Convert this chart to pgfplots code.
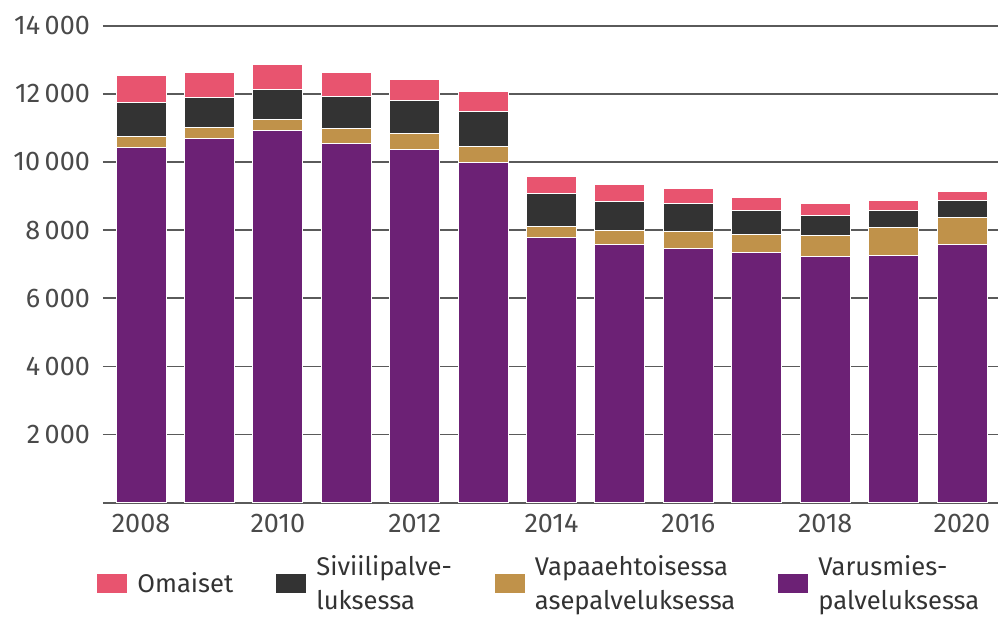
\documentclass[border=0pt]{standalone}
\usepackage{fontspec}
\setmainfont{Fira Sans}
\usepackage{pgfplots}
\usepackage{pgfplotstable}
\pgfplotsset{compat=1.18}
\definecolor{cPink}{HTML}{E8546F}
\definecolor{cDark}{HTML}{333333}
\definecolor{cGold}{HTML}{C0924A}
\definecolor{cPurple}{HTML}{6C2175}
\definecolor{cGrid}{HTML}{5A5A5A}
\definecolor{cTick}{HTML}{4A4A4A}
\pgfplotstableread{
year var vap siv oma
2008 10427 324 1002 795
2009 10704 312 884 736
2010 10928 315 884 736
2011 10557 421 951 690
2012 10368 463 980 610
2013 9997 460 1013 607
2014 7776 336 972 489
2015 7570 412 866 489
2016 7473 480 825 453
2017 7334 530 699 403
2018 7216 640 580 353
2019 7267 815 489 295
2020 7582 783 501 265
}\datatable
\begin{document}
\begin{tikzpicture}
\begin{axis}[
 scale only axis, width=447.5pt, height=238.5pt,
 xmin=2007.444, xmax=2020.526, ymin=0, ymax=14000,
 ybar stacked, bar width=25pt,
 axis line style={draw=none},
 ymajorgrids, grid style={line width=0.8pt, color=cGrid},
 scaled y ticks=false,
 xtick={2008,2010,...,2020},
 xticklabels={2008,2010,2012,2014,2016,2018,2020},
 ytick={0,2000,...,14000},
 yticklabels={,{2\,000},{4\,000},{6\,000},{8\,000},{10\,000},{12\,000},{14\,000}},
 major tick length=0pt,
 tick label style={font=\fontsize{13.5}{15}\selectfont, text=cTick},
 yticklabel style={xshift=-3pt},
 xticklabel style={yshift=-2pt},
 reverse legend,
 legend style={at={(0,0)}, anchor=north west, xshift=-3pt, yshift=-26pt,
   draw=none, fill=none, inner sep=0pt, legend columns=4,
   text=cDark,
   nodes={align=left, inner sep=0pt, anchor=west, font=\fontsize{12.8}{15}\selectfont},
   /tikz/every odd column/.append style={column sep=5pt},
   /tikz/every even column/.append style={column sep=21.5pt}},
 legend image code/.code={\fill[#1, draw=none] (0pt,-4.75pt) rectangle (15pt,4.75pt);},
 every axis plot/.append style={draw=white, line width=0.5pt},
]
\addplot[fill=cPurple] table[x=year, y=var] {\datatable};
\addlegendentry{Varusmies-\\[2pt]palveluksessa}
\addplot[fill=cGold] table[x=year, y=vap] {\datatable};
\addlegendentry{Vapaaehtoisessa\\[2pt]asepalveluksessa}
\addplot[fill=cDark] table[x=year, y=siv] {\datatable};
\addlegendentry{Siviilipalve-\\[2pt]luksessa}
\addplot[fill=cPink] table[x=year, y=oma] {\datatable};
\addlegendentry{Omaiset}
\end{axis}
\pgfresetboundingbox
\path[use as bounding box] (-51.5pt,-57.15pt) rectangle (447.5pt,251.35pt);
\end{tikzpicture}
\end{document}
